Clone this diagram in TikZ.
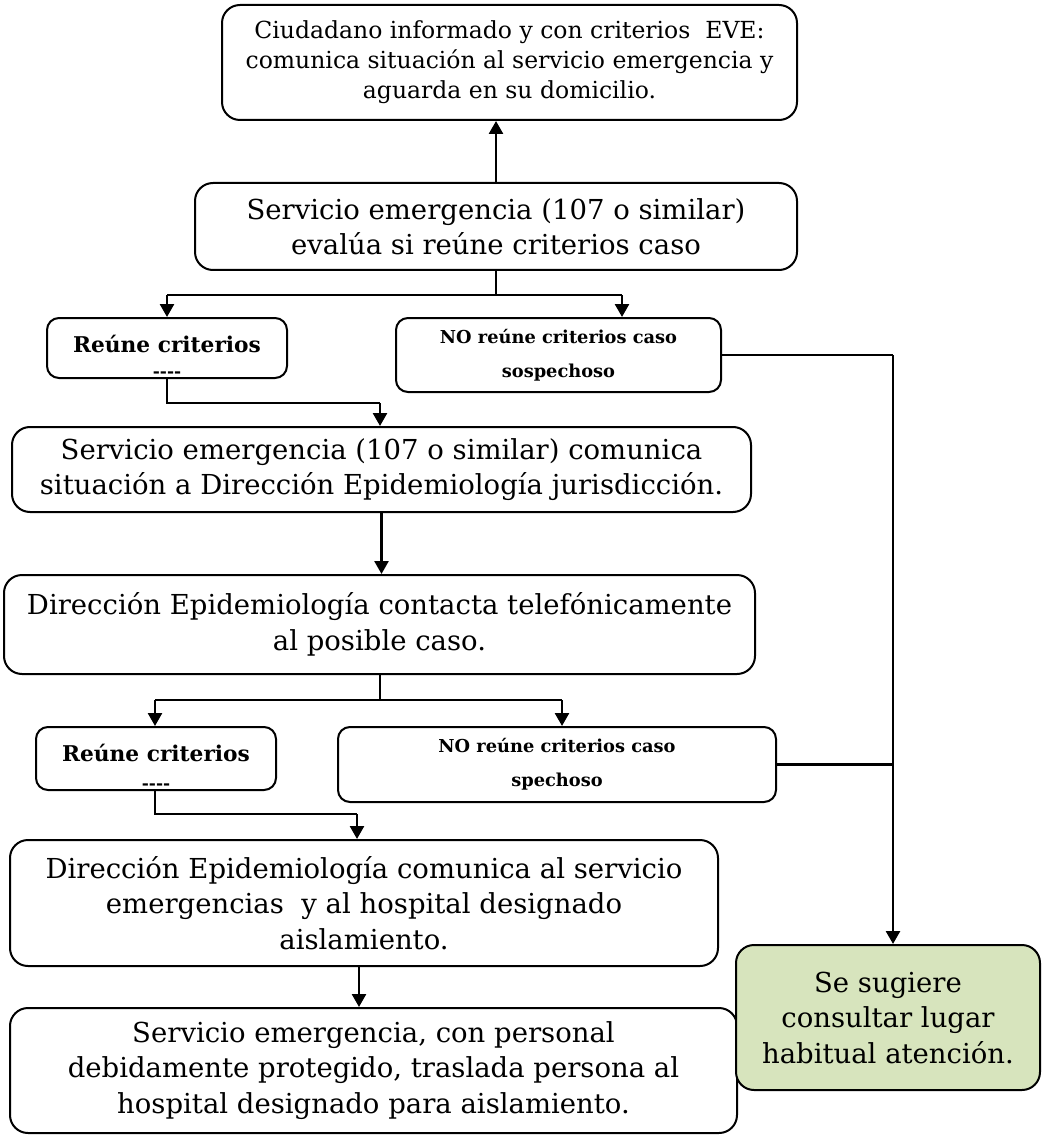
\documentclass[tikz,border=0pt]{standalone}
\usepackage{fontspec}
\setmainfont{DejaVu Serif}
\usetikzlibrary{arrows.meta}
\definecolor{greenfill}{RGB}{215,228,189}
\begin{document}
\begin{tikzpicture}[x=1pt,y=-1pt,
  box/.style={draw, line width=2pt, rounded corners=18pt, align=center, inner sep=0pt,
    font=\fontsize{27.5}{35.5}\selectfont},
  topbox/.style={box, font=\fontsize{23.5}{30}\selectfont},
  smallbox/.style={box, rounded corners=12pt, font=\bfseries\fontsize{17.8}{34}\selectfont},
  crit/.style={font=\bfseries\fontsize{21.7}{34}\selectfont, inner sep=0pt},
  dashes/.style={font=\bfseries\fontsize{17}{20}\selectfont, inner sep=0pt},
  conn/.style={line width=2.6pt},
  arr/.style={conn, -{Triangle[width=14pt,length=13pt]}}]
\useasboundingbox (0,0) rectangle (1042,1139);

\node[topbox, minimum width=575pt, minimum height=115pt] (b1) at (509.5,62.5)
  {Ciudadano informado y con criterios\ \ EVE:\\comunica situación al servicio emergencia y\\aguarda en su domicilio.};
\node[box, minimum width=602pt, minimum height=87pt] (b2) at (496,226.5)
  {Servicio emergencia (107 o similar)\\evalúa si reúne criterios caso};
\node[smallbox, minimum width=240pt, minimum height=60pt] (b3) at (167,348) {};
\node[crit] (b3t) at (167,344) {Reúne criterios};
\begin{scope}
  \clip (47,318) rectangle (287,376.5);
  \node[dashes] (b3d) at (167,375) {-{}-{}-{}-};
\end{scope}
\node[smallbox, minimum width=325pt, minimum height=74pt] (b4) at (558.5,355)
  {NO reúne criterios caso\\sospechoso};
\node[box, minimum width=739pt, minimum height=85pt] (b5) at (381.5,469.5)
  {Servicio emergencia (107 o similar) comunica\\situación a Dirección Epidemiología jurisdicción.};
\node[box, minimum width=751pt, minimum height=99pt] (b6) at (379.5,624.5)
  {Dirección Epidemiología contacta telefónicamente\\al posible caso.};
\node[smallbox, minimum width=240pt, minimum height=63pt] (b7) at (156,758.5) {};
\node[crit] (b7t) at (156,753) {Reúne criterios};
\begin{scope}
  \clip (36,727) rectangle (276,788.5);
  \node[dashes] (b7d) at (156,787) {-{}-{}-{}-};
\end{scope}
\node[smallbox, minimum width=438pt, minimum height=75pt] (b8) at (557,764.5)
  {NO reúne criterios caso\\spechoso};
\node[box, minimum width=708pt, minimum height=126pt] (b9) at (364,903)
  {Dirección Epidemiología comunica al servicio\\emergencias\ \ y al hospital designado\\aislamiento.};
\node[box, minimum width=727pt, minimum height=125pt] (b10) at (373.5,1070.5)
  {Servicio emergencia, con personal\\debidamente protegido, traslada persona al\\hospital designado para aislamiento.};
\node[box, fill=greenfill, minimum width=304pt, minimum height=145pt] (g) at (888,1017.5)
  {Se sugiere\\consultar lugar\\habitual atención.};

% junction coordinates
\coordinate (j1) at (496,295);
\coordinate (j1l) at (167,295);
\coordinate (j1r) at (622,295);
\coordinate (j2) at (167,403);
\coordinate (j2r) at (380,403);
\coordinate (j3) at (893,355);
\coordinate (j4) at (380,700);
\coordinate (j4l) at (155,700);
\coordinate (j4r) at (562,700);
\coordinate (j5) at (155,814);
\coordinate (j5r) at (357,814);
\coordinate (j6) at (893,764.5);
\coordinate (j7) at (359,966);

\draw[arr] (b2.north) -- (b2.north |- b1.south);
\draw[conn] (b2.south) -- (j1);
\draw[conn] (j1l) -- (j1r);
\draw[arr] (j1l) -- (b3.north);
\draw[arr] (j1r) -- (j1r |- b4.north);
\draw[conn] (b4.east) -- (j3);
\draw[arr] (j3) -- (j3 |- g.north);
\draw[conn] (b3.south) -- (j2) -- (j2r);
\draw[arr] (j2r) -- (j2r |- b5.north);
\draw[arr] (b5.south) -- (b5.south |- b6.north);
\draw[conn] (j4 |- b6.south) -- (j4);
\draw[conn] (j4l) -- (j4r);
\draw[arr] (j4l) -- (j4l |- b7.north);
\draw[arr] (j4r) -- (j4r |- b8.north);
\draw[conn] (b8.east) -- (j6);
\draw[conn] (b7.south -| j5) -- (j5) -- (j5r);
\draw[arr] (j5r) -- (j5r |- b9.north);
\draw[arr] (j7) -- (j7 |- b10.north);
\end{tikzpicture}
\end{document}
